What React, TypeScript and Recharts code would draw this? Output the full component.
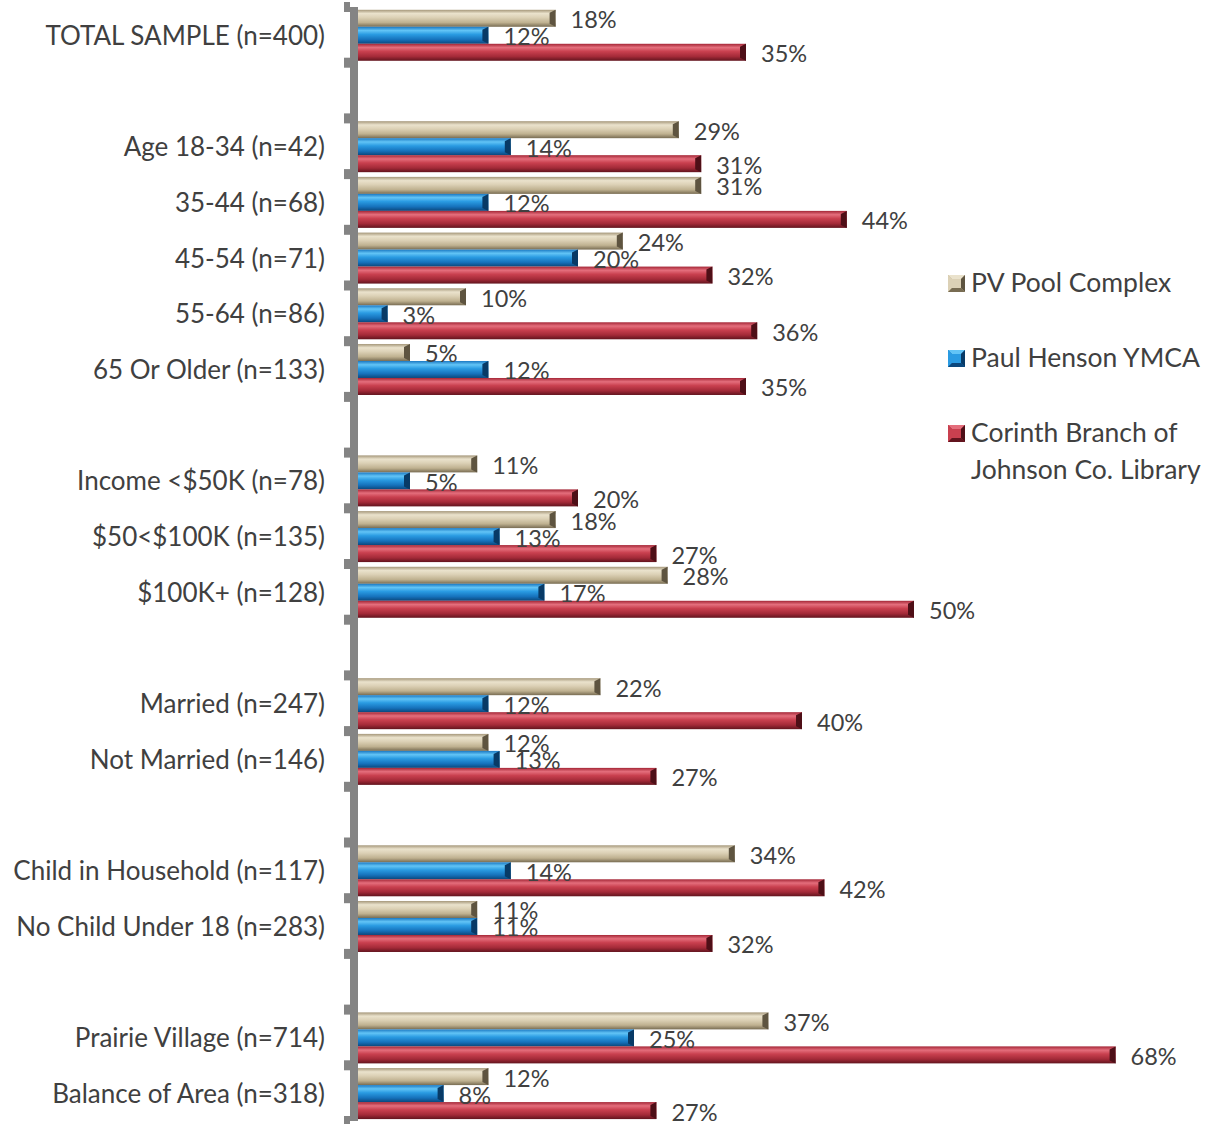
import React from "react";
import { BarChart, Bar, XAxis, YAxis, Legend, LabelList } from "recharts";

const categories = [
  "TOTAL SAMPLE (n=400)",
  "",
  "Age 18-34 (n=42)",
  "35-44 (n=68)",
  "45-54 (n=71)",
  "55-64 (n=86)",
  "65 Or Older (n=133)",
  "",
  "Income <$50K (n=78)",
  "$50<$100K (n=135)",
  "$100K+ (n=128)",
  "",
  "Married (n=247)",
  "Not Married (n=146)",
  "",
  "Child in Household (n=117)",
  "No Child Under 18 (n=283)",
  "",
  "Prairie Village (n=714)",
  "Balance of Area (n=318)",
];
const pvPool = [18, null, 29, 31, 24, 10, 5, null, 11, 18, 28, null, 22, 12, null, 34, 11, null, 37, 12];
const ymca = [12, null, 14, 12, 20, 3, 12, null, 5, 13, 17, null, 12, 13, null, 14, 11, null, 25, 8];
const corinth = [35, null, 31, 44, 32, 36, 35, null, 20, 27, 50, null, 40, 27, null, 42, 32, null, 68, 27];

const seriesNames = ["PV Pool Complex", "Paul Henson YMCA", "Corinth Branch of Johnson Co. Library"];
const legendLines = [["PV Pool Complex"], ["Paul Henson YMCA"], ["Corinth Branch of", "Johnson Co. Library"]];

const data = categories.map((c, i) => ({
  id: `c${i}`,
  label: c,
  pv: pvPool[i],
  ymca: ymca[i],
  corinth: corinth[i],
}));

const FONT = "Lato, 'Open Sans', sans-serif";
const TEXT = "#404040";
const AXIS = "#848484";

const palettes = {
  pv: { stops: ["#A5977A", "#EAE2CC", "#DCD1B6", "#BFB190", "#786C52"], cap: "#5E5440" },
  ymca: { stops: ["#1A78C2", "#62C4F6", "#2A9BE2", "#1672BC", "#0B477C"], cap: "#083A66" },
  corinth: { stops: ["#A42636", "#E46E7C", "#C9404F", "#A32A38", "#62141E"], cap: "#4E0F17" },
};

const makeShape = (key: string) => (props: any) => {
  const { x, y, width, height } = props;
  if (width == null || width <= 0 || height == null) return null;
  const c = Math.min(6, width);
  const pal = (palettes as any)[key];
  return (
    <g>
      <rect x={x} y={y} width={width} height={height} fill={`url(#grad-${key})`} />
      <polygon
        points={`${x + width - c},${y + 3} ${x + width},${y} ${x + width},${y + height} ${x + width - c},${y + height - 3}`}
        fill={pal.cap}
      />
    </g>
  );
};

const renderLabel = (props: any) => {
  const { x, y, width, height, value } = props;
  if (value == null) return null;
  return (
    <text
      x={x + width + 15}
      y={y + height / 2 + 1}
      fill={TEXT}
      fontSize={23.5}
      fontFamily={FONT}
      dominantBaseline="central"
      textAnchor="start"
    >
      {`${value}%`}
    </text>
  );
};

const CategoryTick = (props: any) => {
  const { x, y, payload, index, visibleTicksCount } = props;
  const label = categories[index] ?? "";
  const half = payload && payload.offset ? payload.offset : 1114 / categories.length / 2;
  const axisX = x + 29;
  const marks = [y - half];
  if (index === (visibleTicksCount ?? categories.length) - 1) marks.push(y + half);
  return (
    <g>
      {marks.map((m, k) => (
        <rect key={k} x={axisX - 10} y={m - 5} width={6} height={10} fill={AXIS} />
      ))}
      {label ? (
        <text
          x={x}
          y={y}
          textAnchor="end"
          dominantBaseline="central"
          fill={TEXT}
          fontSize={26}
          fontFamily={FONT}
        >
          {label}
        </text>
      ) : null}
    </g>
  );
};

const LegendMarker = ({ k }: { k: string }) => {
  const pal = (palettes as any)[k];
  return (
    <svg width={17} height={17} style={{ display: "block" }}>
      <rect x={0} y={0} width={17} height={17} fill={pal.stops[3]} />
      <polygon points="0,0 17,0 13,4 4,4" fill={pal.stops[1]} />
      <polygon points="0,0 4,4 4,13 0,17" fill={pal.stops[2]} />
      <polygon points="17,0 17,17 13,13 13,4" fill={pal.cap} />
      <polygon points="0,17 17,17 13,13 4,13" fill={pal.stops[4]} />
      <rect x={4} y={4} width={9} height={9} fill={pal.stops[2]} />
    </svg>
  );
};

const keys = ["pv", "ymca", "corinth"];

const renderLegend = () => (
  <div style={{ fontFamily: FONT, fontSize: 26.5, color: TEXT, lineHeight: "37px" }}>
    {keys.map((k, i) => (
      <div key={k} style={{ display: "flex", alignItems: "flex-start", marginBottom: i < 2 ? 38 : 0 }}>
        <div style={{ marginTop: 11, marginRight: 6 }}>
          <LegendMarker k={k} />
        </div>
        <div>
          {legendLines[i].map((l, j) => (
            <div key={j} style={{ whiteSpace: "nowrap" }}>
              {l}
            </div>
          ))}
        </div>
      </div>
    ))}
  </div>
);

export default function App() {
  return (
    <div style={{ position: "absolute", left: 0, top: 0, width: 1210, height: 1124, background: "#fff" }}>
      <BarChart
        width={1210}
        height={1124}
        data={data}
        layout="vertical"
        margin={{ top: 7, right: 72, bottom: 3, left: 0 }}
        barCategoryGap="5%"
        barGap={0}
      >
        <defs>
          {keys.map((k) => {
            const s = (palettes as any)[k].stops;
            return (
              <linearGradient key={k} id={`grad-${k}`} x1="0" y1="0" x2="0" y2="1">
                <stop offset="0" stopColor={s[0]} />
                <stop offset="0.22" stopColor={s[1]} />
                <stop offset="0.45" stopColor={s[2]} />
                <stop offset="0.75" stopColor={s[3]} />
                <stop offset="1" stopColor={s[4]} />
              </linearGradient>
            );
          })}
        </defs>
        <XAxis type="number" domain={[0, 70]} hide />
        <YAxis
          type="category"
          dataKey="id"
          width={354}
          axisLine={{ stroke: AXIS, strokeWidth: 8 }}
          tickLine={false}
          tickSize={6}
          tickMargin={23}
          interval={0}
          tick={<CategoryTick />}
        />
        <Legend
          layout="vertical"
          verticalAlign="middle"
          align="center"
          content={renderLegend}
          wrapperStyle={{ position: "absolute", left: 948, top: 264, width: 262, height: "auto" }}
        />
        <Bar dataKey="pv" name={seriesNames[0]} isAnimationActive={false} shape={makeShape("pv")}>
          <LabelList dataKey="pv" content={renderLabel} />
        </Bar>
        <Bar dataKey="ymca" name={seriesNames[1]} isAnimationActive={false} shape={makeShape("ymca")}>
          <LabelList dataKey="ymca" content={renderLabel} />
        </Bar>
        <Bar dataKey="corinth" name={seriesNames[2]} isAnimationActive={false} shape={makeShape("corinth")}>
          <LabelList dataKey="corinth" content={renderLabel} />
        </Bar>
      </BarChart>
    </div>
  );
}
